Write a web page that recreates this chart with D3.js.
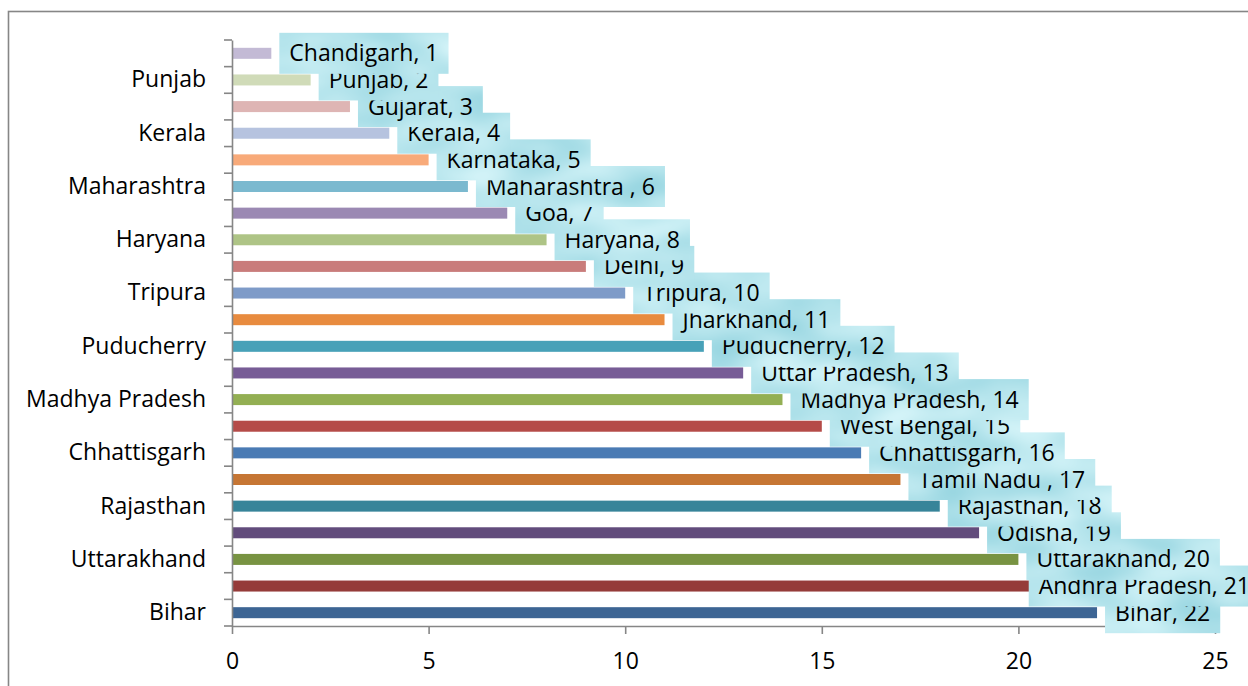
<!DOCTYPE html>
<html>
<head>
<meta charset="utf-8">
<script src="https://cdn.jsdelivr.net/npm/d3@7"></script>
<style>
  html, body { margin: 0; padding: 0; background: #fff; }
  svg { display: block; font-family: "Open Sans", "Noto Sans", sans-serif; }
</style>
</head>
<body>
<svg id="chart" width="1248" height="686"></svg>
<script>
// States, top row first
const states = [
  "Chandigarh", "Punjab", "Gujarat", "Kerala", "Karnataka", "Maharashtra ",
  "Goa", "Haryana", "Delhi", "Tripura", "Jharkhand", "Puducherry",
  "Uttar Pradesh", "Madhya Pradesh", "West Bengal", "Chhattisgarh", "Tamil Nadu ",
  "Rajasthan", "Odisha", "Uttarakhand", "Andhra Pradesh", "Bihar"
];
const ranks = [1, 2, 3, 4, 5, 6, 7, 8, 9, 10, 11, 12, 13, 14, 15, 16, 17, 18, 19, 20, 21, 22];
const barColors = [
  "#c3bad5", "#d0dbb8", "#deb5b4", "#b6c3df", "#f8aa79", "#7bb9cf",
  "#9b89b3", "#aec486", "#c97c7b", "#7e9bc8", "#e88b3f", "#47a1b8",
  "#775c96", "#93af53", "#b54b48", "#4a7bb4", "#c67634",
  "#378499", "#624c7c", "#789342", "#953b39", "#3d6594"
];
// Category labels shown on the axis (every other one, from the bottom)
const axisLabels = ["Punjab", "Kerala", "Maharashtra ", "Haryana", "Tripura", "Puducherry",
  "Madhya Pradesh", "Chhattisgarh", "Rajasthan", "Uttarakhand", "Bihar"];
const xTicks = [0, 5, 10, 15, 20, 25];

const svg = d3.select("#chart");
const axisColor = "#868686";
const fontSize = 23;

// chart frame
svg.append("rect")
  .attr("x", 8.5).attr("y", 11.5)
  .attr("width", 1300).attr("height", 800)
  .attr("fill", "none").attr("stroke", axisColor).attr("stroke-width", 1.6);

// watery texture for the value labels (noise taken from the alpha channel)
const defs = svg.append("defs");
const f = defs.append("filter").attr("id", "water")
  .attr("color-interpolation-filters", "sRGB")
  .attr("x", 0).attr("y", 0).attr("width", 1).attr("height", 1);
f.append("feTurbulence")
  .attr("type", "fractalNoise").attr("baseFrequency", "0.012 0.025")
  .attr("numOctaves", 2).attr("seed", 7).attr("result", "noise");
f.append("feColorMatrix").attr("in", "noise").attr("type", "matrix")
  .attr("values", "0 0 0 0.36 0.54  0 0 0 0.18 0.81  0 0 0 0.14 0.86  0 0 0 0 1")
  .attr("result", "tint");
f.append("feComposite").attr("in", "tint").attr("in2", "SourceGraphic").attr("operator", "in");

const plotLeft = 232, plotRight = 1215, plotTop = 40, plotBottom = 626;

const x = d3.scaleLinear().domain([0, 25]).range([plotLeft, plotRight]);
const pad = 0.587;
const y = d3.scaleBand().domain(states).range([plotTop, plotBottom])
  .paddingInner(pad).paddingOuter(pad / 2);

// bars
svg.append("g").selectAll("rect")
  .data(states)
  .join("rect")
  .attr("x", x(0))
  .attr("y", d => y(d))
  .attr("width", (d, i) => x(ranks[i]) - x(0))
  .attr("height", y.bandwidth())
  .attr("fill", (d, i) => barColors[i]);

// x axis
const xAxis = svg.append("g")
  .attr("transform", `translate(0,${plotBottom})`)
  .call(d3.axisBottom(x).tickValues(xTicks).tickSize(8).tickSizeOuter(0));
xAxis.selectAll("path, line").attr("stroke", axisColor).attr("stroke-width", 1.6);
xAxis.selectAll("text")
  .attr("y", 43).attr("dy", 0)
  .attr("font-size", fontSize).attr("fill", "#000")
  .style("font-family", "'Open Sans', sans-serif");

// y axis with labels
const yAxis = svg.append("g")
  .attr("transform", `translate(${plotLeft},0)`)
  .call(d3.axisLeft(y).tickValues(axisLabels).tickSizeInner(0).tickSizeOuter(0).tickPadding(26));
yAxis.selectAll("path").attr("stroke", axisColor).attr("stroke-width", 1.6);
yAxis.selectAll("text")
  .attr("font-size", fontSize).attr("fill", "#000")
  .style("font-family", "'Open Sans', sans-serif");

// tick marks between categories
const step = y.step();
const bounds = states.map(d => y(d) - step * pad / 2)
  .concat([y(states[states.length - 1]) - step * pad / 2 + step]);
svg.append("g").selectAll("line")
  .data(bounds)
  .join("line")
  .attr("x1", plotLeft - 8).attr("x2", plotLeft)
  .attr("y1", d => d).attr("y2", d => d)
  .attr("stroke", axisColor).attr("stroke-width", 1.6);

// value labels, drawn bottom row first so upper boxes sit on top
const limitRight = 1260;
const order = d3.range(states.length).reverse();
const labels = svg.append("g");
order.forEach(i => {
  const g = labels.append("g");
  const cy = y(states[i]) + y.bandwidth() / 2;
  const rect = g.append("rect").attr("fill", "#b8e5ee").attr("filter", "url(#water)");
  const t = g.append("text")
    .attr("font-size", fontSize).attr("fill", "#000")
    .text(`${states[i]}, ${ranks[i]}`);
  const w = t.node().getComputedTextLength() + 20;
  const bx = Math.min(x(ranks[i]) + 8, limitRight - w);
  rect.attr("x", bx).attr("y", cy - 20.5).attr("width", w).attr("height", 41);
  t.attr("x", bx + 10).attr("y", cy + 8);
});
</script>
</body>
</html>
